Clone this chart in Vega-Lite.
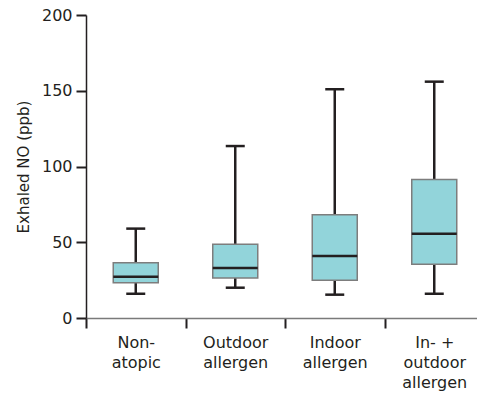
{
  "$schema": "https://vega.github.io/schema/vega-lite/v6.json",
  "autosize": {"type": "none"},
  "padding": {"left": 86, "top": 15, "right": 0, "bottom": 76},
  "width": 398,
  "height": 303,
  "config": {
    "view": {"stroke": null},
    "font": "DejaVu Sans",
    "axis": {"grid": false, "labelFont": "DejaVu Sans", "titleFont": "DejaVu Sans", "labelColor": "#231f20", "titleColor": "#231f20", "labelFontSize": 16, "titleFontSize": 15, "titleFontWeight": "normal"}
  },
  "data": {
    "values": [
      {"group": "Non-atopic", "min": 16, "q1": 23.3, "median": 27.3, "q3": 36.5, "max": 59},
      {"group": "Outdoor allergen", "min": 20, "q1": 26.4, "median": 33, "q3": 48.6, "max": 113.5},
      {"group": "Indoor allergen", "min": 15.4, "q1": 24.9, "median": 41, "q3": 68.2, "max": 151},
      {"group": "In- + outdoor allergen", "min": 16, "q1": 35.4, "median": 55.6, "q3": 91.5, "max": 156}
    ]
  },
  "encoding": {
    "x": {
      "field": "group",
      "type": "nominal",
      "sort": null,
      "scale": {"paddingInner": 0, "paddingOuter": 0},
      "axis": {
        "title": null,
        "labelAngle": 0,
        "labelExpr": "datum.value == 'Non-atopic' ? ['Non-', 'atopic'] : datum.value == 'Outdoor allergen' ? ['Outdoor', 'allergen'] : datum.value == 'Indoor allergen' ? ['Indoor', 'allergen'] : datum.value == 'In- + outdoor allergen' ? ['In- +', 'outdoor', 'allergen'] : ''",
        "labelLineHeight": 20,
        "labelPadding": 6,
        "tickBand": "extent",
        "tickSize": 10,
        "tickWidth": 2,
        "tickColor": "#231f20",
        "domainColor": "#7a7a7a",
        "domainWidth": 1.5
      }
    }
  },
  "layer": [
    {
      "mark": {"type": "rule", "color": "#231f20", "strokeWidth": 2.5},
      "encoding": {
        "y": {"field": "min", "type": "quantitative", "scale": {"domain": [0, 200]}, "axis": {"title": "Exhaled NO (ppb)", "values": [0, 50, 100, 150, 200], "tickSize": 10, "tickWidth": 2, "tickColor": "#231f20", "domainColor": "#231f20", "domainWidth": 1.5, "labelPadding": 4, "titlePadding": 10}},
        "y2": {"field": "max"}
      }
    },
    {
      "mark": {"type": "bar", "size": 45, "fill": "#92d4da", "stroke": "#7d7d7d", "strokeWidth": 1.5},
      "encoding": {
        "y": {"field": "q1", "type": "quantitative"},
        "y2": {"field": "q3"}
      }
    },
    {
      "mark": {"type": "tick", "size": 45, "thickness": 2.5, "color": "#231f20", "opacity": 1},
      "encoding": {"y": {"field": "median", "type": "quantitative"}}
    },
    {
      "mark": {"type": "tick", "size": 19, "thickness": 2.5, "color": "#231f20", "opacity": 1},
      "encoding": {"y": {"field": "min", "type": "quantitative"}}
    },
    {
      "mark": {"type": "tick", "size": 19, "thickness": 2.5, "color": "#231f20", "opacity": 1},
      "encoding": {"y": {"field": "max", "type": "quantitative"}}
    }
  ]
}
